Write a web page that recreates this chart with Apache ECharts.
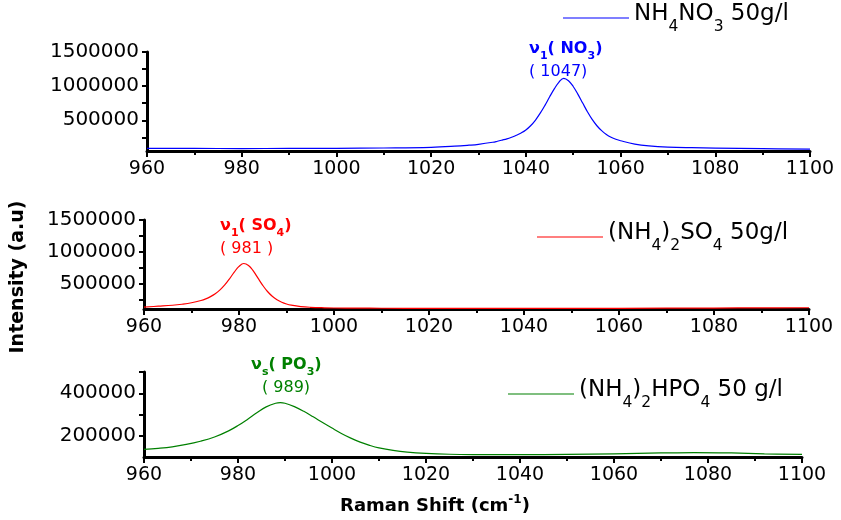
<!DOCTYPE html>
<html>
<head>
<meta charset="utf-8">
<script src="https://cdn.jsdelivr.net/npm/echarts/dist/echarts.min.js"></script>
<style>html,body{margin:0;padding:0;background:#fff}#c{width:841px;height:520px}</style>
</head>
<body>
<div id="c"></div>
<script>
// ---- Data ----
const shiftNO3 = [960,970,980,990,1000,1010,1020,1025,1028,1030,1033,1034,1035,1036,1037,1038,1039,1040,1041,1042,1043,1044,1045,1046,1047,1048,1049,1050,1051,1052,1053,1054,1055,1056,1057,1058,1059,1060,1063,1066,1070,1075,1080,1090,1100];
const intNO3   = [88000,87000,86000,87000,89000,94000,104000,120000,135000,148000,178000,193000,210000,228000,252000,280000,314000,358000,420000,500000,600000,715000,840000,960000,1060000,1115000,1080000,995000,880000,752000,625000,512000,420000,348000,293000,252000,222000,200000,152000,126000,108000,98000,92000,84000,77000];

const shiftSO4 = [960,963,966,968,970,972,973,974,975,976,977,978,979,980,981,982,983,984,985,986,987,988,989,990,991,993,995,998,1000,1005,1010,1020,1040,1060,1080,1090,1100];
const intSO4   = [130000,144000,159000,175000,198000,234000,260000,295000,340000,400000,478000,575000,680000,770000,816000,785000,700000,585000,472000,375000,300000,245000,205000,178000,160000,138000,127000,119000,116000,113000,112000,111000,110000,111000,115000,118000,120000];

const shiftPO4 = [960,963,966,969,972,975,978,980,982,984,986,988,989,990,992,994,996,998,1000,1002,1004,1006,1008,1010,1013,1016,1020,1025,1030,1040,1050,1060,1070,1077,1085,1092,1100];
const intPO4   = [136000,141000,148000,159000,174000,194000,223000,248000,277000,308000,336000,353000,356000,353000,337000,315000,289000,262000,236000,211000,189000,170000,155000,143000,131000,123000,117000,113000,111500,111000,112000,115000,119000,121000,119000,115000,112000];

const seriesNames = ['NH4NO3 50g/l', '(NH4)2SO4 50g/l', '(NH4)2HPO4 50 g/l'];
const legendRich = [
  '{m|NH}{s|4}{m|NO}{s|3}{m| 50g/l}',
  '{m|(NH}{s|4}{m|)}{s|2}{m|SO}{s|4}{m| 50g/l}',
  '{m|(NH}{s|4}{m|)}{s|2}{m|HPO}{s|4}{m| 50 g/l}'
];
const peakLine1 = [
  '{v|ν}{vs|1}{v|( NO}{vs|3}{v|)}',
  '{v|ν}{vs|1}{v|( SO}{vs|4}{v|)}',
  '{v|ν}{vs|s}{v|( PO}{vs|3}{v|)}'
];
const peakLine2 = ['( 1047)', '( 981 )', '( 989)'];

const xTicks = {min: 960, max: 1100, interval: 20};
const yRanges = [
  {min: 50000, max: 1500000, ticks: [250000,500000,750000,1000000,1250000,1500000], labels: [500000,1000000,1500000]},
  {min: 100000, max: 1500000, ticks: [250000,500000,750000,1000000,1250000,1500000], labels: [500000,1000000,1500000]},
  {min: 100000, max: 500000, ticks: [200000,300000,400000,500000], labels: [200000,400000]}
];

// ---- Styling / layout ----
const FONT = 'DejaVu Sans';
const colors = ['#0000ff', '#ff0000', '#008000'];
const grids = [
  {left: 147, top: 52, width: 663, height: 99},
  {left: 144, top: 220, width: 665, height: 89},
  {left: 144, top: 372, width: 658, height: 85}
];
const legendPos = [{left: 563, top: 3}, {left: 537, top: 222}, {left: 508, top: 379}];
const labelOffsets = [[2, 4.5], [12, -4], [6, -4]];
const line2Pad = [0, 0, 11];

const shifts = [shiftNO3, shiftSO4, shiftPO4];
const ints = [intNO3, intSO4, intPO4];

function pairs(xs, ys) { return xs.map((x, i) => [x, ys[i]]); }
function peakOf(xs, ys) {
  let k = 0; ys.forEach((v, i) => { if (v > ys[k]) k = i; });
  return [xs[k], ys[k]];
}

const xAxis = grids.map((g, i) => ({
  gridIndex: i, type: 'value', min: xTicks.min, max: xTicks.max, interval: xTicks.interval,
  axisLine: {show: true, onZero: false, lineStyle: {color: '#000', width: 3}},
  axisTick: {show: true, inside: false, length: 6, lineStyle: {color: '#000', width: 2}},
  minorTick: {show: true, splitNumber: 2, length: 4, lineStyle: {color: '#000', width: 2}},
  axisLabel: {margin: 9, fontFamily: FONT, fontSize: 19, color: '#000', formatter: v => String(v)},
  splitLine: {show: false}, minorSplitLine: {show: false}
}));

const yAxis = yRanges.map((r, i) => ({
  gridIndex: i, type: 'value', min: r.min, max: r.max,
  axisLine: {show: true, onZero: false, lineStyle: {color: '#000', width: 3}},
  axisTick: {show: true, inside: false, length: 5, customValues: r.ticks, lineStyle: {color: '#000', width: 2}},
  axisLabel: {show: true, margin: 8, customValues: r.labels, fontFamily: FONT, fontSize: 20, color: '#000',
              formatter: v => String(v)},
  splitLine: {show: false}
}));

const series = shifts.map((xs, i) => ({
  name: seriesNames[i], type: 'line', xAxisIndex: i, yAxisIndex: i,
  data: pairs(xs, ints[i]), showSymbol: false, smooth: 0.4,
  lineStyle: {color: colors[i], width: 1.2}, itemStyle: {color: colors[i]},
  animation: false,
  markPoint: {
    symbol: 'circle', symbolSize: 0, silent: true, animation: false,
    data: [{coord: peakOf(xs, ints[i])}],
    label: {
      show: true, position: 'top', distance: 0, offset: labelOffsets[i],
      formatter: peakLine1[i] + '\n{n|' + peakLine2[i] + '}',
      rich: {
        v: {fontFamily: FONT, fontWeight: 'bold', fontSize: 16, color: colors[i], lineHeight: 21, align: 'left', verticalAlign: 'top'},
        vs: {fontFamily: FONT, fontWeight: 'bold', fontSize: 11, color: colors[i], lineHeight: 10, verticalAlign: 'top', padding: [10, 0, 0, 0], align: 'left'},
        n: {fontFamily: FONT, fontSize: 16, color: colors[i], lineHeight: 21, align: 'left', padding: [0, 0, 0, line2Pad[i]]}
      }
    }
  }
}));

const legend = seriesNames.map((name, i) => ({
  data: [name], left: legendPos[i].left, top: legendPos[i].top, padding: 0,
  selectedMode: false, icon: 'rect', itemWidth: 66, itemHeight: 1.2,
  itemStyle: {color: colors[i]},
  formatter: () => legendRich[i],
  textStyle: {
    fontFamily: FONT, fontSize: 22, color: '#000',
    rich: {
      m: {fontFamily: FONT, fontSize: 23, color: '#000', lineHeight: 30, verticalAlign: 'top'},
      s: {fontFamily: FONT, fontSize: 15.5, color: '#000', lineHeight: 10, verticalAlign: 'top', padding: [16, 0, 0, 0]}
    }
  }
}));

const chart = echarts.init(document.getElementById('c'), null, {renderer: 'canvas'});
chart.setOption({
  backgroundColor: '#fff',
  animation: false,
  grid: grids,
  xAxis: xAxis,
  yAxis: yAxis,
  legend: legend,
  series: series,
  graphic: [
    {type: 'text', x: 18, y: 277, rotation: Math.PI / 2,
     style: {text: 'Intensity (a.u)', fontFamily: FONT, fontWeight: 'bold', fontSize: 19, fill: '#000',
             align: 'center', verticalAlign: 'middle', textAlign: 'center', textVerticalAlign: 'middle'}},
    {type: 'text', x: 435, y: 506,
     style: {text: '{t|Raman Shift (cm}{p|-1}{t|)}', fill: '#000',
             align: 'center', verticalAlign: 'middle', textAlign: 'center', textVerticalAlign: 'middle',
             rich: {
               t: {fontFamily: FONT, fontWeight: 'bold', fontSize: 18, lineHeight: 24, fill: '#000', color: '#000'},
               p: {fontFamily: FONT, fontWeight: 'bold', fontSize: 12, lineHeight: 12, verticalAlign: 'top', fill: '#000', color: '#000'}
             }}}
  ]
});
</script>
</body>
</html>
